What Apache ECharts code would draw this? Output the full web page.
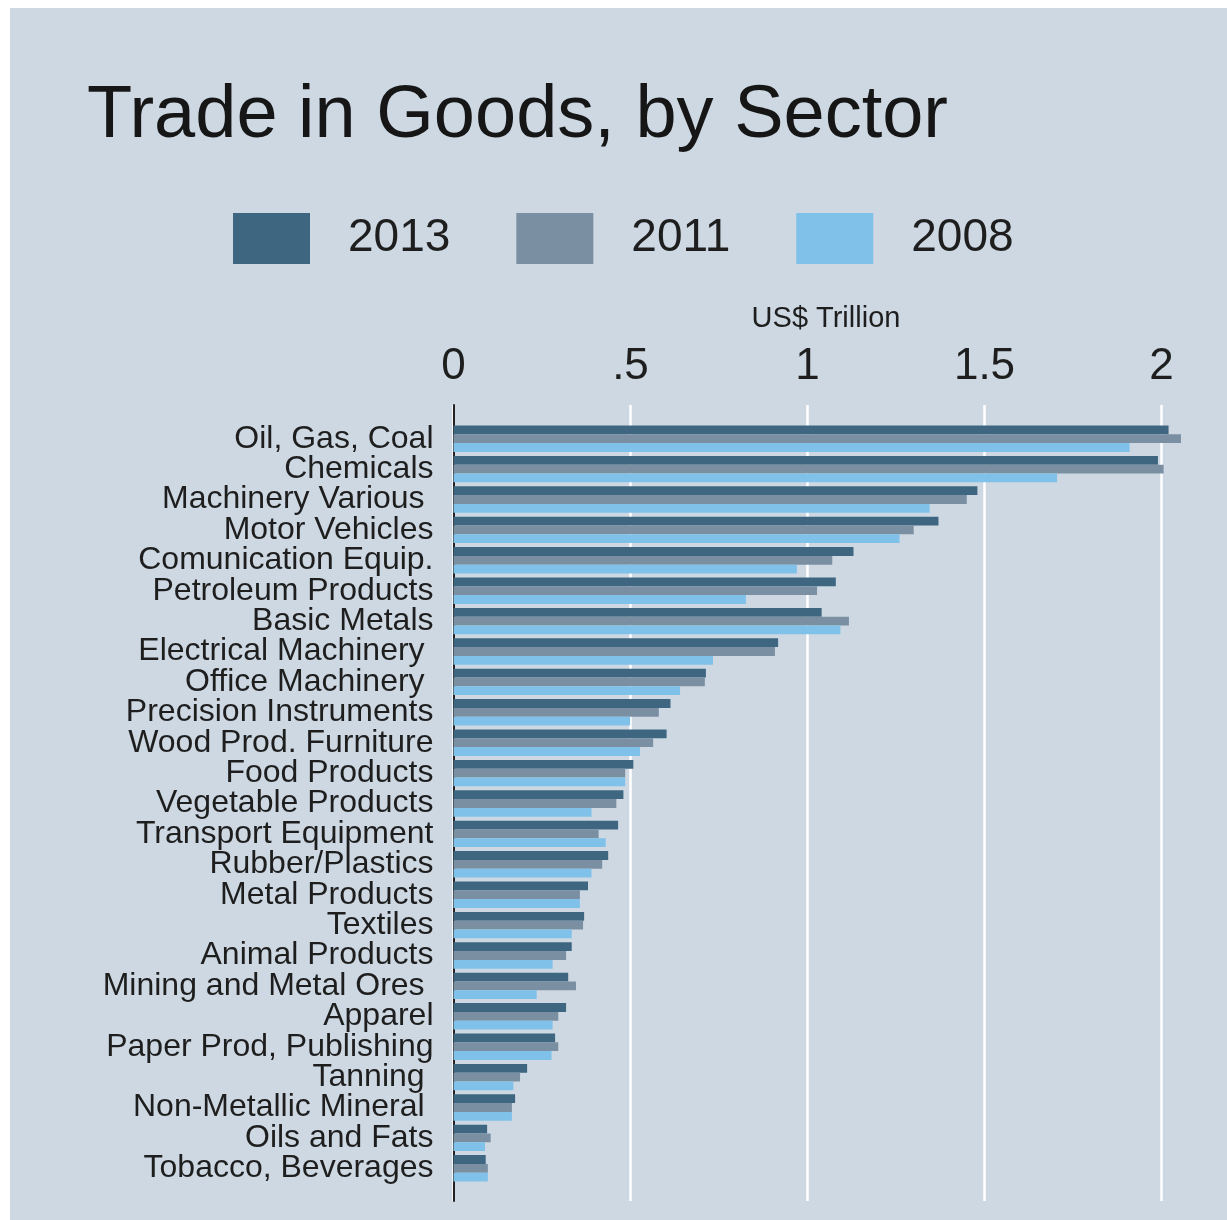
<!DOCTYPE html>
<html>
<head>
<meta charset="utf-8">
<script src="https://cdn.jsdelivr.net/npm/echarts@6/dist/echarts.min.js"></script>
<style>
html, body { margin: 0; padding: 0; background: #ffffff; width: 1227px; height: 1220px; overflow: hidden; }
#bg { position: absolute; left: 10px; top: 8px; width: 1217px; height: 1212px; background: #cdd8e2; }
#chart { position: absolute; left: 0; top: 0; width: 1227px; height: 1220px; }
</style>
</head>
<body>
<div id="bg"></div>
<div id="chart"></div>
<script>
const categories = ['Oil, Gas, Coal', 'Chemicals', 'Machinery Various ', 'Motor Vehicles',
  'Comunication Equip.', 'Petroleum Products', 'Basic Metals', 'Electrical Machinery ',
  'Office Machinery ', 'Precision Instruments', 'Wood Prod. Furniture', 'Food Products',
  'Vegetable Products', 'Transport Equipment', 'Rubber/Plastics', 'Metal Products',
  'Textiles', 'Animal Products', 'Mining and Metal Ores ', 'Apparel',
  'Paper Prod, Publishing', 'Tanning ', 'Non-Metallic Mineral ', 'Oils and Fats',
  'Tobacco, Beverages'];
const years = ['2013', '2011', '2008'];
const v2013 = [2.02, 1.99, 1.48, 1.37, 1.13, 1.08, 1.04, 0.917, 0.713, 0.613, 0.602, 0.508,
  0.48, 0.465, 0.437, 0.38, 0.369, 0.334, 0.324, 0.318, 0.287, 0.208, 0.174, 0.095, 0.091];
const v2011 = [2.055, 2.006, 1.45, 1.30, 1.07, 1.027, 1.117, 0.908, 0.71, 0.58, 0.564, 0.485,
  0.46, 0.41, 0.42, 0.357, 0.366, 0.318, 0.346, 0.296, 0.296, 0.188, 0.165, 0.105, 0.097];
const v2008 = [1.91, 1.705, 1.345, 1.26, 0.97, 0.826, 1.093, 0.733, 0.64, 0.499, 0.527, 0.485,
  0.39, 0.43, 0.39, 0.357, 0.334, 0.28, 0.235, 0.28, 0.277, 0.169, 0.165, 0.089, 0.097];
const tickValues = [0, 0.5, 1, 1.5, 2];
const tickLabels = ['0', '.5', '1', '1.5', '2'];
const axisUnit = 'US$ Trillion';
const chartTitle = 'Trade in Goods, by Sector';

const FONT = "'Liberation Sans', Arial, Helvetica, sans-serif";
const colors = ['#3e6680', '#7b8fa3', '#80c1ea'];
const XMAX = 2.165;

function tickFmt(v) {
  for (let i = 0; i < tickValues.length; i++) {
    if (Math.abs(v - tickValues[i]) < 1e-6) return tickLabels[i];
  }
  return '';
}

const chart = echarts.init(document.getElementById('chart'), null, { renderer: 'canvas' });
const seriesData = [v2013, v2011, v2008];
chart.setOption({
  backgroundColor: 'transparent',
  animation: false,
  textStyle: { fontFamily: FONT },
  title: [
    { text: chartTitle, left: 87, top: 80, padding: 0,
      textStyle: { fontSize: 74, fontWeight: 'normal', color: '#161616', fontFamily: FONT } },
    { text: axisUnit, left: 826, top: 304, padding: 0, textAlign: 'center',
      textStyle: { fontSize: 29, fontWeight: 'normal', color: '#1e1e1e', fontFamily: FONT } }
  ],
  legend: {
    data: years, left: 233, top: 213, padding: 0,
    icon: 'rect', itemWidth: 77, itemHeight: 51, itemGap: 66,
    textStyle: { fontSize: 46, color: '#1e1e1e', fontFamily: FONT, padding: [0, 0, 0, 33] }
  },
  grid: [
    { left: 453.5, top: 423.5, width: 766.4, height: 760 },
    { left: 453.5, top: 405, width: 766.4, height: 796 }
  ],
  xAxis: [
    { gridIndex: 0, type: 'value', min: 0, max: XMAX, interval: 0.5, show: false },
    { gridIndex: 1, type: 'value', min: 0, max: XMAX, interval: 0.5, position: 'top',
      axisLine: { show: false }, axisTick: { show: false },
      axisLabel: { formatter: tickFmt, fontSize: 44, color: '#1e1e1e', margin: 16, fontFamily: FONT,
        showMaxLabel: false },
      splitLine: { show: true, showMaxLine: false, lineStyle: { color: '#ffffff', width: 2.5 } } }
  ],
  yAxis: [
    { gridIndex: 0, type: 'category', data: categories, inverse: true,
      axisLine: { show: false }, axisTick: { show: false }, splitLine: { show: false },
      axisLabel: { interval: 0, fontSize: 32, color: '#1e1e1e', margin: 20, fontFamily: FONT } },
    { gridIndex: 1, type: 'value', min: 0, max: 1, show: true,
      axisLine: { show: true, lineStyle: { color: '#222222', width: 2 } },
      axisTick: { show: false }, axisLabel: { show: false }, splitLine: { show: false } }
  ],
  series: years.map((y, i) => ({
    name: y, type: 'bar', xAxisIndex: 0, yAxisIndex: 0,
    data: seriesData[i], barGap: '0%', barCategoryGap: '13%',
    itemStyle: { color: colors[i] }, z: 3
  }))
});
</script>
</body>
</html>
